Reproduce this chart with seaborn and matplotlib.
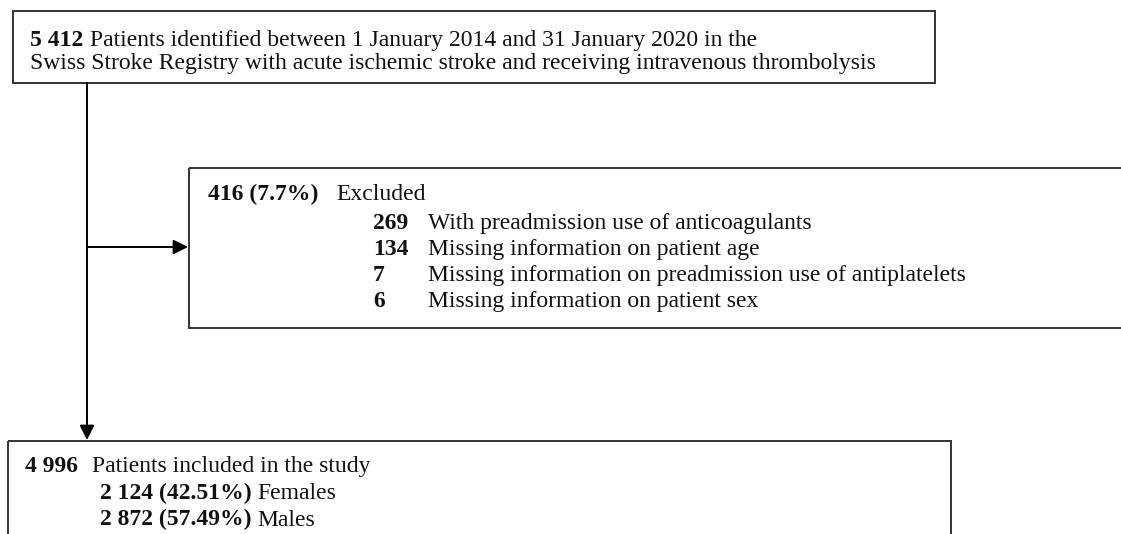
import matplotlib
matplotlib.use("Agg")
import matplotlib.pyplot as plt
from matplotlib.patches import Rectangle
import seaborn as sns

# flow chart values
total_n = "5 412"
total_desc = ["Patients identified between 1 January 2014 and 31 January 2020 in the",
              "Swiss Stroke Registry with acute ischemic stroke and receiving intravenous thrombolysis"]
excluded_n = "416 (7.7%)"
excluded_label = "Excluded"
excl_counts = ["269", "134", "7", "6"]
excl_reasons = ["With preadmission use of anticoagulants",
                "Missing information on patient age",
                "Missing information on preadmission use of antiplatelets",
                "Missing information on patient sex"]
included_n = "4 996"
included_label = "Patients included in the study"
sex_counts = ["2 124 (42.51%)", "2 872 (57.49%)"]
sex_labels = ["Females", "Males"]

sns.set_style("white")
plt.rcParams['font.family'] = ['Liberation Serif', 'DejaVu Serif']

W, H = 1121, 534
FS = 17
EDGE = "#333333"
TXT = "#111111"

fig = plt.figure(figsize=(W / 100, H / 100), dpi=100)
ax = fig.add_axes([0, 0, 1, 1])
ax.set_xlim(0, W)
ax.set_ylim(H, 0)
ax.axis("off")
renderer = fig.canvas.get_renderer()


def box(x0, y0, x1, y1):
    ax.add_patch(Rectangle((x0, y0), x1 - x0, y1 - y0, fill=False,
                           edgecolor=EDGE, linewidth=1.4, clip_on=True))


def txt(x, y, s, bold=False):
    return ax.text(x, y, s, ha="left", va="baseline", fontsize=FS, color=TXT,
                   fontweight="bold" if bold else "normal")


def after(prev, s, gap=6, bold=False):
    # put text right after another text, same baseline
    bb = prev.get_window_extent(renderer)
    x = ax.transData.inverted().transform((bb.x1 + gap, 0))[0]
    return txt(x, prev.get_position()[1], s, bold=bold)


# top box
box(13, 11, 935, 83)
t = txt(30, 46, total_n, bold=True)
after(t, total_desc[0], gap=7)
txt(30, 69, total_desc[1])

# exclusion box
box(189, 168, 1150, 328)
t = txt(208, 200, excluded_n, bold=True)
after(t, excluded_label, gap=18)
for i, (c, r) in enumerate(zip(excl_counts, excl_reasons)):
    y = 229 + i * 26
    txt(373, y, c, bold=True)
    txt(428, y, r)

# included box
box(8, 441, 951, 600)
t = txt(25, 472, included_n, bold=True)
after(t, included_label, gap=14)
for i, (c, l) in enumerate(zip(sex_counts, sex_labels)):
    y = 499 + i * 26.5
    t = txt(100, y, c, bold=True)
    after(t, l, gap=6)

# connectors
ax.plot([87, 87], [83, 425], color="black", lw=1.4)
ax.annotate("", xy=(87, 440), xytext=(87, 420),
            arrowprops=dict(arrowstyle="-|>", color="black", lw=1.4,
                            mutation_scale=22, shrinkA=0, shrinkB=0))
ax.annotate("", xy=(188, 247), xytext=(87, 247),
            arrowprops=dict(arrowstyle="-|>", color="black", lw=1.4,
                            mutation_scale=22, shrinkA=0, shrinkB=0))

fig.savefig("out.png", dpi=100, facecolor="white")
